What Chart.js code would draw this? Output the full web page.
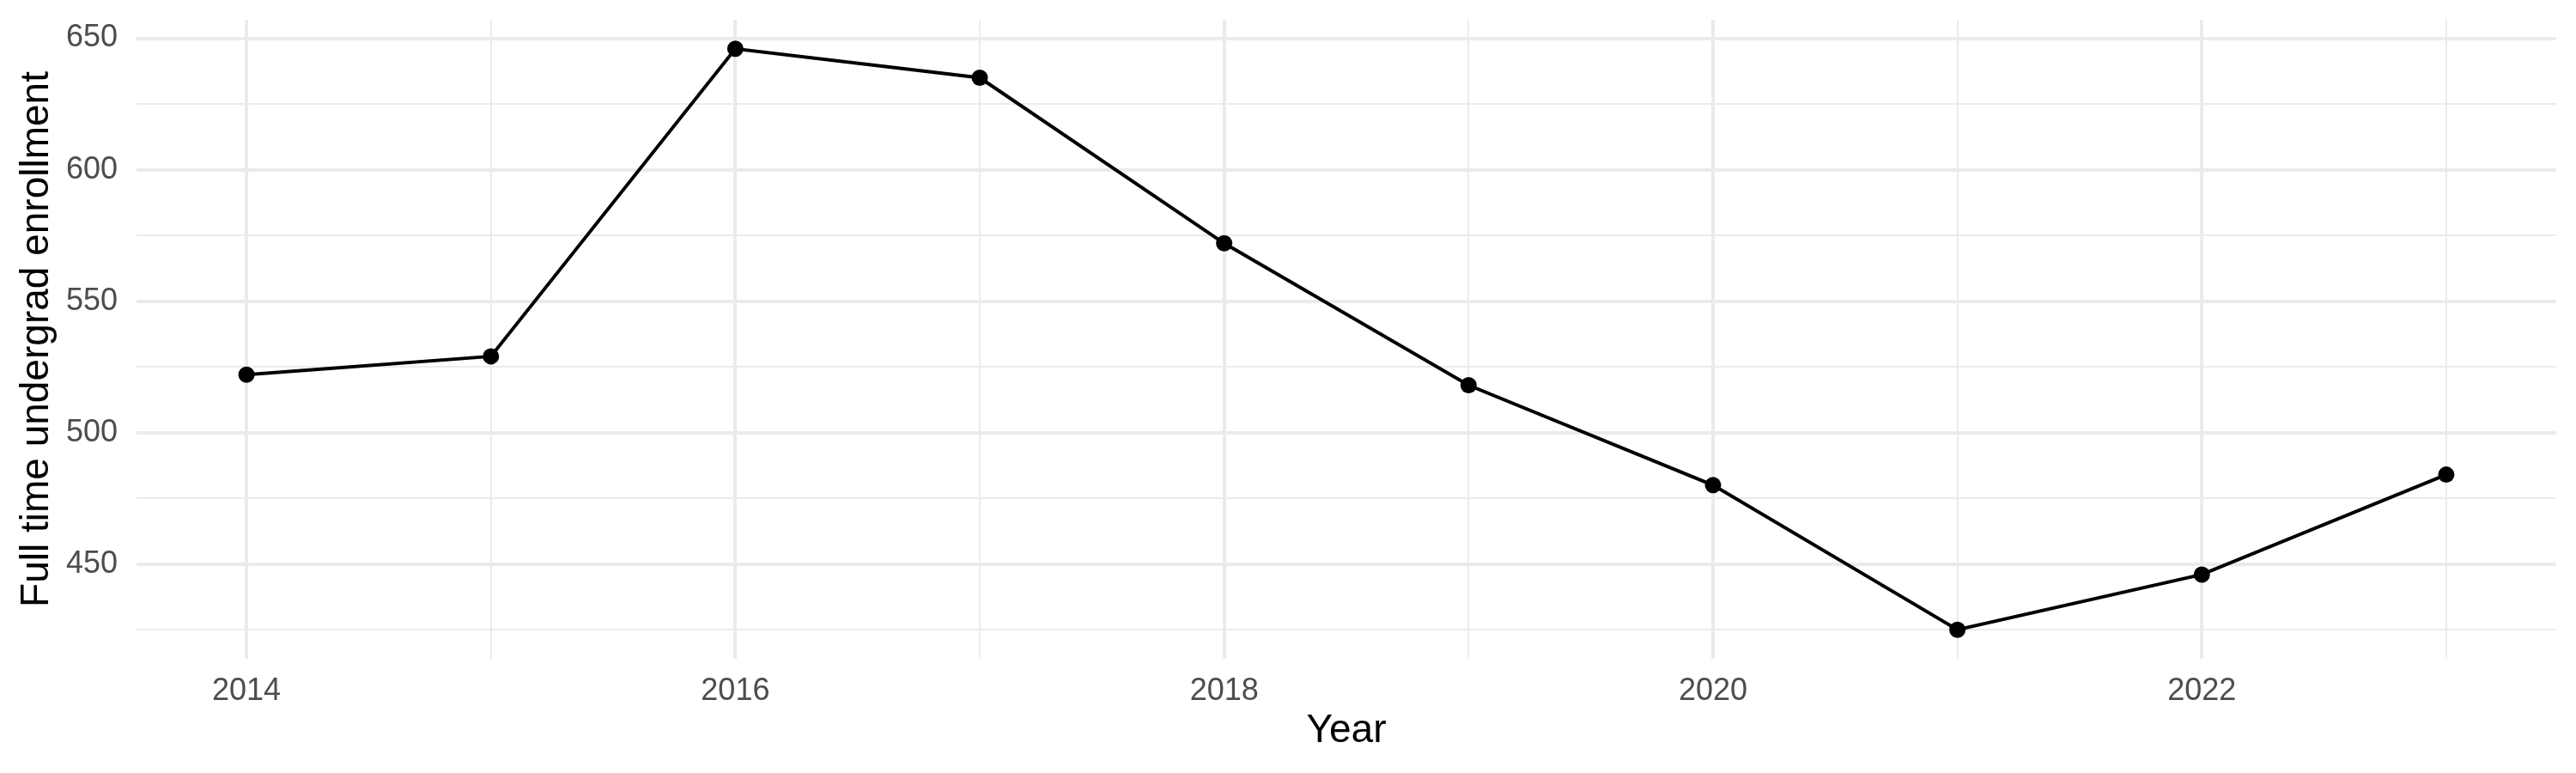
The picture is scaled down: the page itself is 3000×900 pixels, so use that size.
<!DOCTYPE html>
<html>
<head>
<meta charset="utf-8">
<script src="https://cdn.jsdelivr.net/npm/chart.js@4/dist/chart.umd.min.js"></script>
<style>
  html, body { margin: 0; padding: 0; background: #fff; }
  canvas { display: block; }
</style>
</head>
<body>
<canvas id="enroll-chart" width="3000" height="900"></canvas>
<script>
// enrollment by year
const years = [2014, 2015, 2016, 2017, 2018, 2019, 2020, 2021, 2022, 2023];
const enrollment = [522, 529, 646, 635, 572, 518, 480, 425, 446, 484];
const yTicks = [425, 450, 475, 500, 525, 550, 575, 600, 625, 650];
const yLabels = [450, 500, 550, 600, 650];
const xLabels = [2014, 2016, 2018, 2020, 2022];

const FONT = "'Liberation Sans', Arial, Helvetica, sans-serif";
const GRID = '#EBEBEB';

// ggplot-style 5% expansion on both axes
const xPad = (years[years.length - 1] - years[0]) * 0.05;
const yMin = Math.min(...enrollment), yMax = Math.max(...enrollment);
const yPad = (yMax - yMin) * 0.05;

const canvasElem = document.getElementById('enroll-chart');
new Chart(canvasElem, {
  type: 'line',
  data: {
    datasets: [
      {
        label: 'Full time undergrad enrollment',
        data: years.map((yr, i) => ({ x: yr, y: enrollment[i] })),
        borderColor: '#000',
        borderWidth: 4,
        backgroundColor: '#000',
        pointRadius: 9.5,
        pointBorderWidth: 0,
        pointBackgroundColor: '#000',
        tension: 0,
        fill: false
      }
    ]
  },
  options: {
    responsive: false,
    animation: false,
    devicePixelRatio: 1,
    layout: { padding: { top: 23, right: 23, left: 0, bottom: 0 } },
    plugins: {
      legend: { display: false },
      tooltip: { enabled: false }
    },
    scales: {
      x: {
        type: 'linear',
        min: years[0] - xPad,
        max: years[years.length - 1] + xPad,
        afterBuildTicks: (axis) => { axis.ticks = years.map(v => ({ value: v })); },
        afterFit: (axis) => {
          axis.height = 133;
          axis.paddingLeft = 0;
          axis.paddingRight = 0;
        },
        border: { display: false },
        grid: {
          color: GRID,
          drawTicks: false,
          lineWidth: (ctx) => (ctx.tick && xLabels.includes(ctx.tick.value) ? 4 : 2)
        },
        ticks: {
          padding: 16,
          color: '#4D4D4D',
          font: { family: FONT, size: 36 },
          maxRotation: 0,
          autoSkip: false,
          callback: (v) => (xLabels.includes(v) ? String(v) : '')
        },
        title: {
          display: true,
          text: 'Year',
          color: '#000',
          font: { family: FONT, size: 46 },
          padding: { top: 0, bottom: 21 }
        }
      },
      y: {
        type: 'linear',
        min: yMin - yPad,
        max: yMax + yPad,
        afterBuildTicks: (axis) => { axis.ticks = yTicks.map(v => ({ value: v })); },
        afterFit: (axis) => {
          axis.width = 159;
          axis.paddingTop = 0;
          axis.paddingBottom = 0;
        },
        border: { display: false },
        grid: {
          color: GRID,
          drawTicks: false,
          lineWidth: (ctx) => (ctx.tick && yLabels.includes(ctx.tick.value) ? 4 : 2)
        },
        ticks: {
          padding: 22,
          color: '#4D4D4D',
          font: { family: FONT, size: 36 },
          autoSkip: false,
          callback: (v) => (yLabels.includes(v) ? String(v) : '')
        },
        title: {
          display: true,
          text: 'Full time undergrad enrollment',
          color: '#000',
          font: { family: FONT, size: 46 },
          padding: { top: 16, bottom: 0 }
        }
      }
    }
  }
});
</script>
</body>
</html>
